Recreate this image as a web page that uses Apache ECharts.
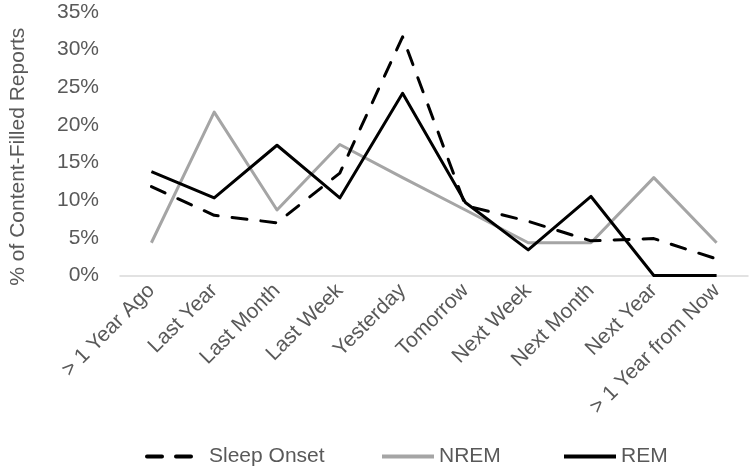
<!DOCTYPE html>
<html><head><meta charset="utf-8">
<script src="https://cdn.jsdelivr.net/npm/echarts@6/dist/echarts.min.js"></script>
<style>html,body{margin:0;padding:0;background:#fff}#c{width:750px;height:470px}</style>
</head><body><div id="c"></div>
<script>
var categories = ['> 1 Year Ago','Last Year','Last Month','Last Week','Yesterday','Tomorrow','Next Week','Next Month','Next Year','> 1 Year from Now'];
var sleepOnset = [11.8, 8.0, 7.0, 13.6, 31.7, 9.3, 7.2, 4.6, 4.9, 2.2];
var nrem = [4.35, 21.7, 8.7, 17.4, 13.0, 8.7, 4.35, 4.35, 13.0, 4.35];
var rem = [13.8, 10.3, 17.3, 10.3, 24.2, 9.7, 3.4, 10.5, 0, 0];
var yTicks = [0, 5, 10, 15, 20, 25, 30, 35];

var font = 'Liberation Sans, Arial, sans-serif';
var txt = '#595959';
var chart = echarts.init(document.getElementById('c'), null, {renderer:'canvas'});
function leg(name, left, w){
  return {data:[name], left:left, top:441, itemWidth:w, itemHeight:14, itemGap:0,
    itemStyle:{opacity:0}, lineStyle:{width:4},
    textStyle:{fontFamily:font, fontSize:21, color:txt}};
}
chart.setOption({
  animation:false,
  grid:{left:119, right:2, top:12, bottom:194.5, containLabel:false},
  legend:[leg('Sleep Onset',140,57), leg('NREM',375,52), leg('REM',557,52)],
  xAxis:{type:'category', data:categories, boundaryGap:true,
    axisLine:{lineStyle:{color:'#d9d9d9', width:1.5}}, axisTick:{show:false},
    axisLabel:{rotate:45, interval:0, margin:12, fontFamily:font, fontSize:21, color:txt}},
  yAxis:{type:'value', min:yTicks[0], max:yTicks[yTicks.length-1], interval:5,
    name:'% of Content-Filled Reports', nameLocation:'middle', nameGap:91, nameRotate:90,
    nameTextStyle:{fontFamily:font, fontSize:21, color:txt, padding:[0,26,0,0]},
    axisLine:{show:false}, axisTick:{show:false}, splitLine:{show:false},
    axisLabel:{margin:21, fontFamily:font, fontSize:21, color:txt, formatter:'{value}%'}},
  series:[
    {name:'Sleep Onset', type:'line', data:sleepOnset, symbol:'none', color:'#000',
      lineStyle:{color:'#000', width:3, type:[15,14], cap:'round', join:'round'}, z:3},
    {name:'NREM', type:'line', data:nrem, symbol:'none', color:'#a5a5a5',
      lineStyle:{color:'#a5a5a5', width:3, join:'round'}, z:2},
    {name:'REM', type:'line', data:rem, symbol:'none', color:'#000',
      lineStyle:{color:'#000', width:3, join:'round'}, z:4}
  ]
});
</script></body></html>
